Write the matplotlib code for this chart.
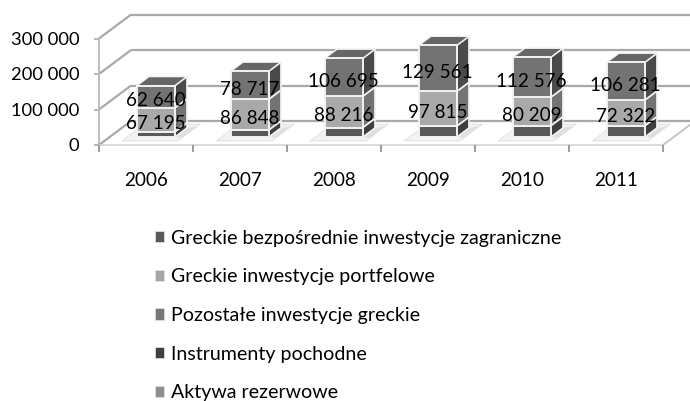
import matplotlib
matplotlib.use("Agg")
import matplotlib.pyplot as plt
from matplotlib.patches import Polygon, Patch

plt.rcParams['font.family'] = ['Lato', 'DejaVu Sans']

years = ['2006', '2007', '2008', '2009', '2010', '2011']
direct = [15000, 20000, 27000, 31000, 32000, 32000]
portfolio = [67195, 86848, 88216, 97815, 80209, 72322]
other = [62640, 78717, 106695, 129561, 112576, 106281]
series_names = ['Greckie bezpośrednie inwestycje zagraniczne', 'Greckie inwestycje portfelowe',
                'Pozostałe inwestycje greckie', 'Instrumenty pochodne', 'Aktywa rezerwowe']
legend_colors = ['#595959', '#a6a6a6', '#787878', '#404040', '#8c8c8c']
yticks = [0, 100000, 200000, 300000]
ytick_labels = ['0', '100 000', '200 000', '300 000']

W, H = 690, 401
fig = plt.figure(figsize=(W / 100, H / 100), dpi=100)
x0, x1, y0, y300 = 99, 663, 145, 38.5
ax = fig.add_axes([x0 / W, 1 - y0 / H, (x1 - x0) / W, (y0 - y300) / H])
ax.set_xlim(0, 6)
ax.set_ylim(0, 300000)
ax.axis('off')

DX = 32 / 94          # depth shift in category units
DY = 24 / 35.6 * 1e5  # depth shift in value units


def P(x, v, d):
    return (x + d * DX, v + d * DY)


def poly(pts, fc, ec='none', lw=0, z=1):
    ax.add_patch(Polygon([P(*p) for p in pts], closed=True, fc=fc, ec=ec, lw=lw, zorder=z, clip_on=False,
                         joinstyle='round'))


GRID = '#a9a9a9'
def seg(a, b, color=GRID, lw=1.6, z=1):
    pa, pb = P(*a), P(*b)
    ax.plot([pa[0], pb[0]], [pa[1], pb[1]], color=color, lw=lw, zorder=z, clip_on=False, solid_capstyle='butt')


# walls and grid
for v in yticks:
    seg((0, v, 0), (0, v, 1), lw=1.6)
    seg((0, v, 1), (6.2, v, 1), lw=1.6)
    seg((-0.05, v, 0), (0, v, 0), lw=1.2)
seg((0, 0, 0), (0, 300000, 0), color='#bdbdbd', lw=1.4)
# floor
seg((0, 0, 0), (6, 0, 0), color='#d4d4d4', lw=1.2)
seg((6, 0, 0), (6, 0, 1), color='#bdbdbd', lw=1.2)
for i in range(7):
    seg((i, 0, 0), (i, -20000, 0), color='#8c8c8c', lw=1.2)

BL, BW = 0.29, 0.404
D0, D1 = 0.33, 0.71
for i, yr in enumerate(years):
    # floor shadow
    poly([(i + 0.19, 0, 0.17), (i + 0.78, 0, 0.17), (i + 0.78, 0, 0.875), (i + 0.19, 0, 0.875)],
         fc='#f3f3f3', ec='#dedede', lw=0.6, z=2)
    poly([(i + BL + BW, 0, D0), (i + 0.78, 0, 0.3), (i + 0.78, 0, 0.8), (i + BL + BW, 0, D1)],
         fc='#e0e0e0', z=2)
    xl, xr = i + BL, i + BL + BW
    bottom = 0
    stacks = [(direct[i], '#595959', '#3f3f3f'), (portfolio[i], '#a9a9a9', '#737373'),
              (other[i], '#737373', '#4a4a4a')]
    for k, (val, front, side) in enumerate(stacks):
        top = bottom + val
        poly([(xr, bottom, D0), (xr, top, D0), (xr, top, D1), (xr, bottom, D1)], fc=side, ec='#f2f2f2', lw=1.2, z=3)
        poly([(xl, bottom, D0), (xr, bottom, D0), (xr, top, D0), (xl, top, D0)], fc=front, ec='#f2f2f2', lw=1.4, z=4)
        if k > 0:
            cx, cy = P((xl + xr) / 2, bottom + val / 2 - 11000, D0)
            ax.text(cx, cy, f'{val:,}'.replace(',', ' '), ha='center', va='center', fontsize=13.6,
                    color='#000000', zorder=6)
        bottom = top
    poly([(xl, bottom, D0), (xr, bottom, D0), (xr, bottom, D1), (xl, bottom, D1)], fc='#666666', ec='#f2f2f2', lw=1.0, z=3)
    ax.text(i + 0.5, -101000, yr, ha='center', va='center', fontsize=13.6, color='#000000', clip_on=False)

for v, lab in zip(yticks, ytick_labels):
    ax.text(-0.21, v - 4000, lab, ha='right', va='center', fontsize=13.2, color='#000000')

handles = [Patch(fc=c, ec='#e6e6e6', lw=0.5) for c in legend_colors]
fig.legend(handles, series_names, loc='upper left', bbox_to_anchor=(154.5 / W, 1 - 229.5 / H), frameon=False,
           fontsize=14.1, handlelength=0.5, handleheight=0.5, handletextpad=0.32, labelspacing=1.11,
           borderpad=0, borderaxespad=0, labelcolor='#000000')
fig.savefig('out.png', dpi=100)
